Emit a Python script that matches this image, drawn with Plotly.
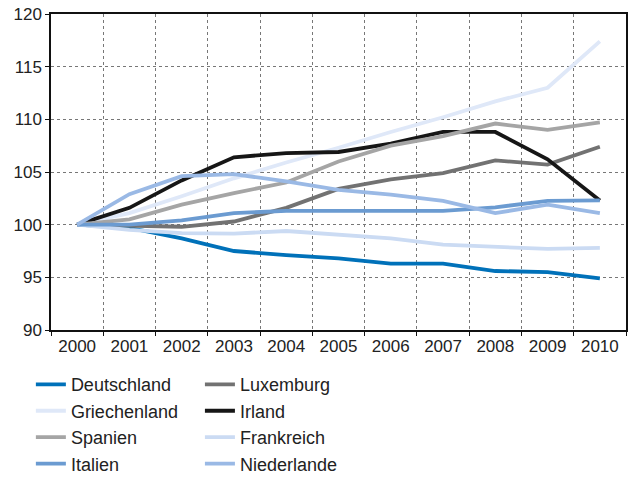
import plotly.graph_objects as go

years = ["2000", "2001", "2002", "2003", "2004", "2005", "2006", "2007", "2008", "2009", "2010"]

deutschland  = [100, 99.7, 98.7, 97.5, 97.1, 96.8, 96.3, 96.3, 95.6, 95.5, 94.9]
luxemburg    = [100, 99.9, 99.8, 100.3, 101.6, 103.4, 104.3, 104.9, 106.1, 105.7, 107.4]
griechenland = [100, 101.1, 102.7, 104.4, 105.9, 107.3, 108.8, 110.2, 111.7, 113.0, 117.4]
irland       = [100, 101.6, 104.2, 106.4, 106.8, 106.9, 107.7, 108.8, 108.8, 106.2, 102.3]
spanien      = [100, 100.5, 101.9, 103.0, 104.0, 106.0, 107.5, 108.4, 109.6, 109.0, 109.7]
frankreich   = [100, 99.5, 99.2, 99.15, 99.4, 99.05, 98.7, 98.1, 97.9, 97.7, 97.8]
italien      = [100, 100.0, 100.4, 101.1, 101.3, 101.3, 101.35, 101.3, 101.65, 102.25, 102.3]
niederlande  = [100, 102.9, 104.6, 104.8, 104.1, 103.3, 102.85, 102.25, 101.1, 101.9, 101.1]

# (name, values, colour, legend column)
series = [
    ("Deutschland", deutschland, "#0071b9", "legend"),
    ("Luxemburg", luxemburg, "#727272", "legend2"),
    ("Griechenland", griechenland, "#dfe8f8", "legend"),
    ("Irland", irland, "#161616", "legend2"),
    ("Spanien", spanien, "#a5a5a5", "legend"),
    ("Frankreich", frankreich, "#cbdbf3", "legend2"),
    ("Italien", italien, "#6b9bd1", "legend"),
    ("Niederlande", niederlande, "#9ab9e5", "legend2"),
]

fig = go.Figure()
for name, vals, col, leg in series:
    fig.add_trace(go.Scatter(x=years, y=vals, name=name, mode="lines", legend=leg,
                             line=dict(color=col, width=3.8)))

font = dict(family="Liberation Sans, Arial, sans-serif", size=17, color="#222222")
legfont = dict(family="Liberation Sans, Arial, sans-serif", size=18, color="#222222")

fig.update_layout(
    width=635, height=478,
    margin=dict(l=51, r=9, t=14, b=148),
    paper_bgcolor="white", plot_bgcolor="white",
    font=font,
    showlegend=True,
    legend=dict(orientation="v", x=-0.035, y=0.234, yref="container",
                xanchor="left", yanchor="top",
                traceorder="normal", font=legfont, itemwidth=30,
                bgcolor="rgba(0,0,0,0)"),
    legend2=dict(orientation="v", x=0.259, y=0.234, yref="container",
                 xanchor="left", yanchor="top",
                 traceorder="normal", font=legfont, itemwidth=30,
                 bgcolor="rgba(0,0,0,0)"),
)

fig.update_xaxes(type="category", range=[-0.5, 10.5], tickson="boundaries",
                 showgrid=True, gridcolor="#777777", griddash="dot", gridwidth=1,
                 showline=True, linecolor="#111111", linewidth=1.5, mirror=True,
                 ticks="outside", ticklen=4, tickcolor="#111111",
                 tickfont=font, zeroline=False, automargin=False)
fig.update_yaxes(range=[90, 120], dtick=5, tick0=90,
                 showgrid=True, gridcolor="#777777", griddash="dot", gridwidth=1,
                 showline=True, linecolor="#111111", linewidth=1.5, mirror=True,
                 ticks="outside", ticklen=4, tickcolor="#111111",
                 tickfont=font, zeroline=False, automargin=False)

fig.write_html("out.html", config={"displayModeBar": False},
               post_script="document.body.style.margin='0';")
